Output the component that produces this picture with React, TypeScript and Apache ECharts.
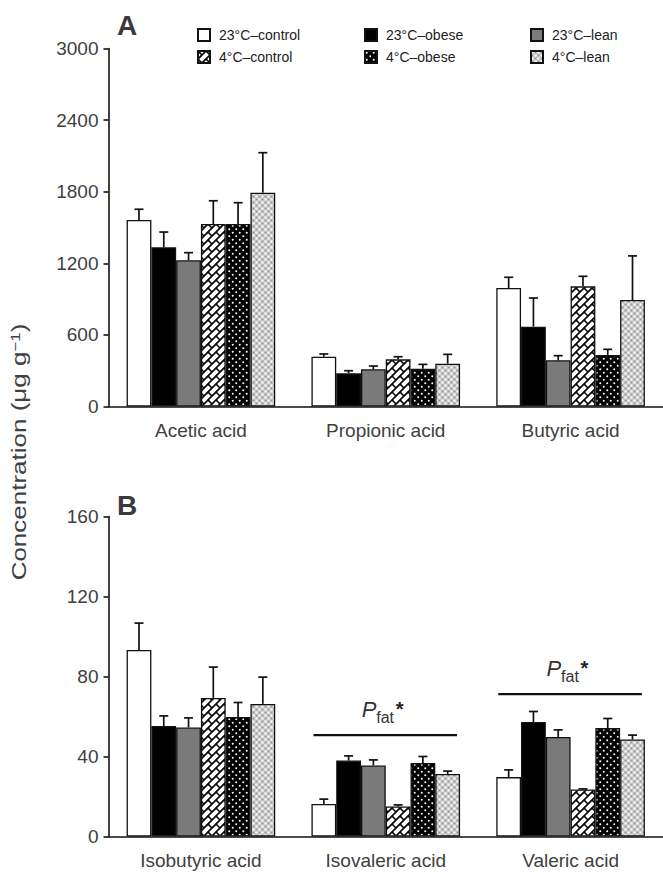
import React, { useEffect, useRef } from 'react';
import * as echarts from 'echarts';

const categoriesA = ['Acetic acid', 'Propionic acid', 'Butyric acid'];
const categoriesB = ['Isobutyric acid', 'Isovaleric acid', 'Valeric acid'];
const seriesNames = ['23°C–control', '23°C–obese', '23°C–lean', '4°C–control', '4°C–obese', '4°C–lean'];

const ticksA = { min: 0, max: 3000, interval: 600 };
const ticksB = { min: 0, max: 160, interval: 40 };

// Panel A means (per group, across categoriesA)
const meanA_23control = [1563, 417, 993];
const meanA_23obese = [1334, 278, 669];
const meanA_23lean = [1225, 312, 387];
const meanA_4control = [1529, 395, 1007];
const meanA_4obese = [1529, 317, 432];
const meanA_4lean = [1792, 359, 892];
// Panel A errors
const errA_23control = [90, 23, 90];
const errA_23obese = [128, 22, 240];
const errA_23lean = [64, 27, 39];
const errA_4control = [195, 22, 84];
const errA_4obese = [179, 36, 47];
const errA_4lean = [335, 78, 370];

// Panel B means
const meanB_23control = [93.3, 16.3, 29.7];
const meanB_23obese = [55.2, 38, 57.2];
const meanB_23lean = [54.5, 35.5, 49.8];
const meanB_4control = [69.3, 15, 23.5];
const meanB_4obese = [59.8, 36.7, 54.2];
const meanB_4lean = [66.3, 31.3, 48.5];
// Panel B errors
const errB_23control = [13.4, 2.4, 3.6];
const errB_23obese = [5.1, 2.3, 5.3];
const errB_23lean = [4.8, 2.8, 3.5];
const errB_4control = [15.4, 0.8, 0.3];
const errB_4obese = [7.2, 3.3, 4.8];
const errB_4lean = [13.4, 1.4, 2.2];

// Significance bars in panel B
const sigCategories = [1, 2];
const sigLevels = [50.7, 71.2];

const meansA = [meanA_23control, meanA_23obese, meanA_23lean, meanA_4control, meanA_4obese, meanA_4lean];
const errsA = [errA_23control, errA_23obese, errA_23lean, errA_4control, errA_4obese, errA_4lean];
const meansB = [meanB_23control, meanB_23obese, meanB_23lean, meanB_4control, meanB_4obese, meanB_4lean];
const errsB = [errB_23control, errB_23obese, errB_23lean, errB_4control, errB_4obese, errB_4lean];

const GAP = 0.196;
const FONT = '"Liberation Sans", Arial, Helvetica, sans-serif';
const TXT = '#404040';

function makeCanvas(size: number) {
  const c = document.createElement('canvas');
  c.width = size;
  c.height = size;
  return c;
}

function hatchPattern() {
  const s = 16;
  const h = 8;
  const c = makeCanvas(s);
  const g = c.getContext('2d')!;
  g.fillStyle = '#fff';
  g.fillRect(0, 0, s, s);
  g.strokeStyle = '#000';
  g.lineWidth = 1.6;
  for (let k = -64; k <= 80; k += h) {
    g.beginPath();
    g.moveTo(k + 32, -32);
    g.lineTo(k - 32, 32);
    g.stroke();
  }
  for (let j = -10; j <= 14; j++) {
    const s0 = h * j;
    for (let m = -10; m <= 10; m++) {
      const d = h * j + 2 * h * m;
      g.beginPath();
      g.moveTo((s0 + d) / 2, (s0 - d) / 2);
      g.lineTo((s0 + h + d) / 2, (s0 + h - d) / 2);
      g.stroke();
    }
  }
  return { image: c, repeat: 'repeat', imageWidth: s, imageHeight: s };
}

function dotsPattern() {
  const s = 7;
  const c = makeCanvas(s);
  const g = c.getContext('2d')!;
  g.fillStyle = '#000';
  g.fillRect(0, 0, s, s);
  g.fillStyle = '#fff';
  [[1.75, 1.75], [5.25, 5.25]].forEach(([x, y]) => {
    g.beginPath();
    g.arc(x, y, 1.0, 0, Math.PI * 2);
    g.fill();
  });
  return { image: c, repeat: 'repeat', imageWidth: s, imageHeight: s };
}

function leanPattern() {
  const s = 6;
  const c = makeCanvas(s);
  const g = c.getContext('2d')!;
  g.fillStyle = '#c4c4c4';
  g.fillRect(0, 0, s, s);
  g.fillStyle = '#f6f6f6';
  [[1.5, 1.5], [4.5, 4.5]].forEach(([x, y]) => {
    g.beginPath();
    g.arc(x, y, 1.2, 0, Math.PI * 2);
    g.fill();
  });
  g.fillStyle = '#8e8e8e';
  [[4.5, 1.5], [1.5, 4.5]].forEach(([x, y]) => {
    g.beginPath();
    g.arc(x, y, 0.8, 0, Math.PI * 2);
    g.fill();
  });
  return { image: c, repeat: 'repeat', imageWidth: s, imageHeight: s };
}

export default function App() {
  const ref = useRef<HTMLDivElement>(null);
  useEffect(() => {
    if (!ref.current) return;
    const chart = echarts.init(ref.current, undefined, { renderer: 'svg' });
    const fills: any[] = ['#ffffff', '#000000', '#7a7a7a', hatchPattern(), dotsPattern(), leanPattern()];

    const yAxisCommon = {
      type: 'value',
      splitLine: { show: false },
      axisLine: { show: true, lineStyle: { color: '#111', width: 1.6 } },
      axisTick: { show: true, length: 5, lineStyle: { color: '#111', width: 1.6 } },
      axisLabel: { color: TXT, fontSize: 19, fontFamily: FONT, margin: 10, formatter: (v: number) => String(v) },
    };
    const xAxisCommon = {
      type: 'category',
      axisLine: { show: true, lineStyle: { color: '#111', width: 1.6 } },
      axisTick: { show: false },
      axisLabel: { color: TXT, fontSize: 19, fontFamily: FONT, margin: 14 },
    };

    const barSeries: any[] = [];
    [meansA, meansB].forEach((means, p) => {
      means.forEach((vals, i) => {
        barSeries.push({
          type: 'bar',
          name: seriesNames[i],
          xAxisIndex: p,
          yAxisIndex: p,
          data: vals,
          barGap: '0%',
          barCategoryGap: (GAP * 100).toFixed(1) + '%',
          itemStyle: { color: fills[i], borderColor: '#111', borderWidth: 1.3 },
          silent: true,
        });
      });
    });

    const errSeries = [meansA, meansB].map((means, p) => {
      const errs = p === 0 ? errsA : errsB;
      const data: number[][] = [];
      means.forEach((vals, i) => vals.forEach((v, c) => data.push([c, i, v, errs[i][c]])));
      return {
        type: 'custom',
        xAxisIndex: p,
        yAxisIndex: p,
        data,
        encode: { x: 0, y: 2 },
        silent: true,
        z: 5,
        renderItem: (params: any, api: any) => {
          const c = api.value(0);
          const i = api.value(1);
          const m = api.value(2);
          const e = api.value(3);
          const band = api.size([1, 0])[0];
          const bw = (band * (1 - GAP)) / 6;
          const base = api.coord([c, m]);
          const top = api.coord([c, m + e]);
          const x = base[0] + (i - 2.5) * bw;
          const st = { stroke: '#111', lineWidth: 1.7 };
          return {
            type: 'group',
            children: [
              { type: 'line', shape: { x1: x, y1: base[1], x2: x, y2: top[1] }, style: st },
              { type: 'line', shape: { x1: x - 4.5, y1: top[1], x2: x + 4.5, y2: top[1] }, style: st },
            ],
          };
        },
      };
    });

    const sigSeries = {
      type: 'custom',
      xAxisIndex: 1,
      yAxisIndex: 1,
      data: sigCategories.map((c, k) => [c, sigLevels[k]]),
      encode: { x: 0, y: 1 },
      silent: true,
      z: 6,
      renderItem: (params: any, api: any) => {
        const c = api.value(0);
        const lv = api.value(1);
        const band = api.size([1, 0])[0];
        const gw = band * (1 - GAP);
        const p = api.coord([c, lv]);
        return {
          type: 'group',
          children: [
            {
              type: 'line',
              shape: { x1: p[0] - gw / 2 + 2, y1: p[1], x2: p[0] + gw / 2 - 3, y2: p[1] },
              style: { stroke: '#111', lineWidth: 2.4 },
            },
            {
              type: 'text',
              x: p[0] - 24,
              y: p[1] - 26,
              style: { text: 'P', fontSize: 22, fontStyle: 'italic', fontFamily: FONT, fill: '#333', verticalAlign: 'middle', align: 'left' },
            },
            {
              type: 'text',
              x: p[0] - 9.5,
              y: p[1] - 18,
              style: { text: 'fat', fontSize: 16, fontFamily: FONT, fill: '#333', verticalAlign: 'middle', align: 'left' },
            },
            {
              type: 'text',
              x: p[0] + 10,
              y: p[1] - 26,
              style: { text: '*', fontSize: 20, fontFamily: FONT, fontWeight: 'bold', fill: '#222', verticalAlign: 'middle', align: 'left' },
            },
          ],
        };
      },
    };

    const legendCol = (names: string[], left: number) => ({
      show: true,
      orient: 'vertical',
      left,
      top: 28,
      padding: 0,
      itemGap: 8,
      itemWidth: 12,
      itemHeight: 12,
      icon: 'rect',
      selectedMode: false,
      data: names,
      textStyle: { fontSize: 14, fontFamily: FONT, color: '#222', padding: [0, 0, 0, 4] },
    });

    chart.setOption({
      animation: false,
      backgroundColor: '#ffffff',
      textStyle: { fontFamily: FONT },
      legend: [
        legendCol([seriesNames[0], seriesNames[3]], 197),
        legendCol([seriesNames[1], seriesNames[4]], 364),
        legendCol([seriesNames[2], seriesNames[5]], 530),
      ],
      grid: [
        { left: 108.5, right: -5, top: 48.5, height: 358 },
        { left: 108.5, right: -5, top: 516.5, height: 320 },
      ],
      xAxis: [
        { ...xAxisCommon, gridIndex: 0, data: categoriesA },
        { ...xAxisCommon, gridIndex: 1, data: categoriesB },
      ],
      yAxis: [
        { ...yAxisCommon, gridIndex: 0, ...ticksA },
        { ...yAxisCommon, gridIndex: 1, ...ticksB },
      ],
      graphic: [
        { type: 'text', left: 117, top: 11, style: { text: 'A', fontSize: 28, fontWeight: 'bold', fontFamily: FONT, fill: '#3a3a3a' } },
        { type: 'text', left: 117, top: 491, style: { text: 'B', fontSize: 28, fontWeight: 'bold', fontFamily: FONT, fill: '#3a3a3a' } },
        {
          type: 'text',
          x: 19,
          y: 452,
          rotation: Math.PI / 2,
          scaleX: 1.3,
          style: {
            text: '{a|Concentration (μg g}{b|−1}{a|)}',
            align: 'center',
            verticalAlign: 'middle',
            rich: {
              a: { fontSize: 20, fontFamily: FONT, fill: TXT, color: TXT },
              b: { fontSize: 13, fontFamily: FONT, fill: TXT, color: TXT, verticalAlign: 'top' },
            },
          },
        },
      ],
      series: [...barSeries, ...errSeries, sigSeries],
    });
    return () => chart.dispose();
  }, []);
  return <div ref={ref} style={{ position: 'absolute', left: 0, top: 0, width: 663, height: 876 }} />;
}
